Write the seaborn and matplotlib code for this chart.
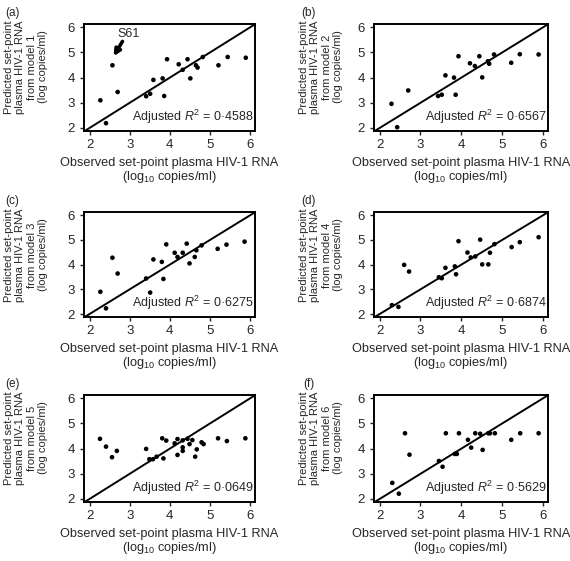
import matplotlib
matplotlib.use('Agg')
import matplotlib.pyplot as plt
import seaborn as sns
import pandas as pd

# Observed (x) and predicted (y) set-point values
obs_a = [2.27, 2.41, 2.57, 2.70, 3.41, 3.51, 3.59, 3.82, 3.86, 3.93, 4.22, 4.32, 4.44, 4.51, 4.65, 4.69, 4.82, 5.21, 5.44, 5.89]
pred_a = [3.10, 2.19, 4.49, 3.43, 3.26, 3.36, 3.91, 3.97, 3.27, 4.73, 4.53, 4.31, 4.73, 3.97, 4.49, 4.40, 4.82, 4.49, 4.82, 4.79]

obs_b = [2.29, 2.43, 2.70, 3.43, 3.52, 3.61, 3.82, 3.86, 3.93, 4.21, 4.33, 4.44, 4.51, 4.65, 4.68, 4.80, 5.22, 5.43, 5.89]
pred_b = [2.96, 2.03, 3.49, 3.27, 3.32, 4.09, 4.00, 3.32, 4.85, 4.57, 4.46, 4.85, 4.01, 4.65, 4.55, 4.92, 4.59, 4.93, 4.92]

obs_c = [2.27, 2.41, 2.57, 2.70, 3.41, 3.51, 3.59, 3.80, 3.84, 3.91, 4.12, 4.19, 4.32, 4.42, 4.49, 4.62, 4.66, 4.79, 5.19, 5.41, 5.86]
pred_c = [2.90, 2.23, 4.28, 3.64, 3.44, 2.87, 4.21, 4.11, 3.42, 4.82, 4.48, 4.31, 4.48, 4.85, 4.05, 4.31, 4.58, 4.78, 4.64, 4.81, 4.93]

obs_d = [2.30, 2.46, 2.60, 2.72, 3.45, 3.52, 3.61, 3.84, 3.87, 3.93, 4.15, 4.23, 4.34, 4.46, 4.51, 4.66, 4.70, 4.81, 5.23, 5.43, 5.89]
pred_d = [2.36, 2.29, 3.99, 3.72, 3.49, 3.45, 3.87, 3.93, 3.61, 4.95, 4.49, 4.29, 4.33, 5.01, 4.01, 4.01, 4.48, 4.83, 4.71, 4.91, 5.11]

obs_e = [2.26, 2.41, 2.56, 2.68, 3.41, 3.49, 3.58, 3.67, 3.81, 3.84, 3.91, 4.12, 4.19, 4.19, 4.32, 4.32, 4.32, 4.44, 4.49, 4.56, 4.63, 4.67, 4.79, 4.84, 5.20, 5.42, 5.88]
pred_e = [4.39, 4.08, 3.66, 3.91, 3.99, 3.58, 3.58, 3.68, 4.41, 3.61, 4.32, 4.21, 4.38, 3.75, 4.33, 4.05, 3.91, 4.39, 4.18, 4.34, 3.68, 3.97, 4.25, 4.18, 4.41, 4.30, 4.41]

obs_f = [2.31, 2.47, 2.62, 2.73, 3.45, 3.54, 3.62, 3.84, 3.89, 3.94, 4.16, 4.24, 4.34, 4.46, 4.52, 4.66, 4.70, 4.82, 5.22, 5.44, 5.89]
pred_f = [2.64, 2.21, 4.61, 3.76, 3.51, 3.28, 4.61, 3.79, 3.79, 4.61, 4.35, 4.04, 4.61, 4.59, 3.95, 4.61, 4.61, 4.61, 4.35, 4.61, 4.61]

panel_labels = ['(a)', '(b)', '(c)', '(d)', '(e)', '(f)']
model_names = ['1', '2', '3', '4', '5', '6']
adj_r2 = ['0·4588', '0·6567', '0·6275', '0·6874', '0·0649', '0·5629']
ticks = [2, 3, 4, 5, 6]

panels = [(obs_a, pred_a), (obs_b, pred_b), (obs_c, pred_c),
          (obs_d, pred_d), (obs_e, pred_e), (obs_f, pred_f)]

sns.set_style('ticks')
plt.rcParams['font.family'] = ['Liberation Sans', 'DejaVu Sans']
plt.rcParams['mathtext.fontset'] = 'custom'
plt.rcParams['mathtext.rm'] = 'Liberation Sans'
plt.rcParams['mathtext.it'] = 'Liberation Sans:italic'
plt.rcParams['font.size'] = 9

W, H = 570, 561
fig = plt.figure(figsize=(W / 100, H / 100), dpi=100)

# axes boxes in pixels: (left, top, width, height)
col_left = [83.5, 373.5]
col_width = [171.5, 174.5]
row_top = [24, 212, 395]
row_height = [107, 105, 107]

for i, (obs, pred) in enumerate(panels):
    r, c = divmod(i, 2)
    left, w = col_left[c], col_width[c]
    top, h = row_top[r], row_height[r]
    ax = fig.add_axes([left / W, 1 - (top + h) / H, w / W, h / H])

    df = pd.DataFrame({'obs': obs, 'pred': pred})
    sns.scatterplot(data=df, x='obs', y='pred', ax=ax, color='black',
                    s=11, edgecolor='none', zorder=3)
    ax.axline((2, 2), slope=1, color='black', lw=1.4, zorder=2)

    ax.set_xlim(1.85, 6.12)
    ax.set_ylim(1.88, 6.13)
    ax.set_xticks(ticks)
    ax.set_yticks(ticks)
    ax.tick_params(direction='out', length=3, width=1, labelsize=9.5, pad=3)
    for sp in ax.spines.values():
        sp.set_linewidth(1.4)
        sp.set_color('black')
    ax.set_xlabel('Observed set-point plasma HIV-1 RNA\n(log$_{10}$ copies/ml)',
                  fontsize=9.2, labelpad=4, linespacing=1.05)
    ax.set_ylabel('')

    ax.text(0.995, 0.13, 'Adjusted $R^2$ = ' + adj_r2[i], transform=ax.transAxes,
            ha='right', va='center', fontsize=9.0)

    # y label and panel letter as figure text
    ylab_x = 26 if c == 0 else 321
    fig.text(ylab_x / W, 1 - (top + 43) / H,
             'Predicted set-point\nplasma HIV-1 RNA\nfrom model ' + model_names[i] + '\n(log copies/ml)',
             rotation=90, ha='center', va='center', multialignment='center',
             fontsize=8.0, linespacing=1.2)
    lab_x = 12 if c == 0 else 309
    fig.text(lab_x / W, 1 - (top - 11) / H, panel_labels[i],
             ha='center', va='center', fontsize=8.5)

    if i == 0:
        ax.text(2.97, 5.74, 'S61', ha='center', va='center', fontsize=9.0)
        ax.annotate('', xy=(2.60, 4.85), xytext=(2.82, 5.44),
                    arrowprops=dict(arrowstyle='-|>', color='black', lw=2.6,
                                    mutation_scale=9, shrinkA=0, shrinkB=0))

fig.savefig('out.png', dpi=100)
plt.close(fig)
